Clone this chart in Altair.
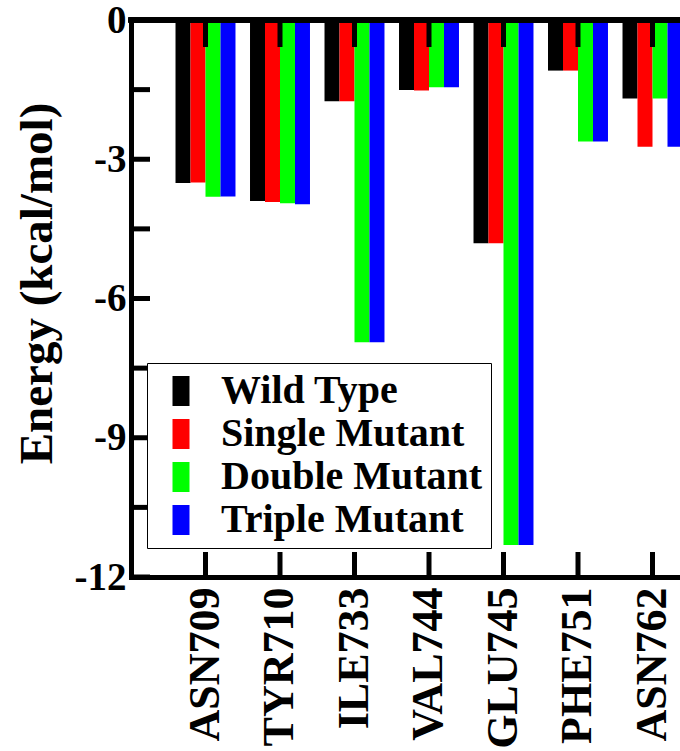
import altair as alt
import pandas as pd

residues = ["ASN709", "TYR710", "ILE733", "VAL744", "GLU745", "PHE751", "ASN762"]
series = ["Wild Type", "Single Mutant", "Double Mutant", "Triple Mutant"]
colors = ["#000000", "#ff0000", "#00ff00", "#0000ff"]

wild_type = [-3.51, -3.90, -1.75, -1.51, -4.81, -1.09, -1.69]
single_mutant = [-3.50, -3.92, -1.75, -1.52, -4.81, -1.09, -2.73]
double_mutant = [-3.81, -3.95, -6.94, -1.45, -11.31, -2.62, -1.69]
triple_mutant = [-3.80, -3.97, -6.94, -1.45, -11.31, -2.62, -2.73]

y_major = [0, -3, -6, -9, -12]
y_minor = [-1.5, -4.5, -7.5, -10.5]

rows = []
for name, vals in zip(series, [wild_type, single_mutant, double_mutant, triple_mutant]):
    for r, v in zip(residues, vals):
        rows.append({"residue": r, "series": name, "energy": v})
df = pd.DataFrame(rows)
res_df = pd.DataFrame({"residue": residues})
ytick_df = pd.DataFrame({"energy": y_major + y_minor})

W, H = 549, 557
FONT = "Liberation Serif"

x_scale = alt.Scale(domain=residues, range=[0, 596], paddingInner=0.195, paddingOuter=0.5975)
y_scale = alt.Scale(domain=[-12, 0], nice=False, zero=False)

x_axis = alt.Axis(
    title=None, labelAngle=270, labelAlign="right", labelBaseline="middle",
    labelFont=FONT, labelFontWeight="bold", labelFontSize=44, labelColor="black",
    labelPadding=10, ticks=False, domainWidth=5, domainColor="black", domainCap="square",
    grid=False,
)
y_axis = alt.Axis(
    title="Energy (kcal/mol)", values=y_major, ticks=False, grid=False,
    labelExpr="toString(datum.value)",
    labelFont=FONT, labelFontWeight="bold", labelFontSize=39, labelColor="black",
    labelPadding=5, domainWidth=5, domainColor="black", domainCap="square",
    titleFont=FONT, titleFontWeight="bold", titleFontSize=47, titleColor="black",
    titleX=-94, titleY=263, titleAngle=270, titleBaseline="middle", titleAlign="center",
)

x_enc = alt.X("residue:N", sort=residues, scale=x_scale, axis=x_axis)
y_enc = alt.Y("energy:Q", scale=y_scale, axis=y_axis)

bars = alt.Chart(df).mark_bar(clip=True, strokeWidth=0).encode(
    x=x_enc,
    xOffset=alt.XOffset("series:N", sort=series,
                        scale=alt.Scale(domain=series, paddingInner=0, paddingOuter=0)),
    y=y_enc,
    color=alt.Color(
        "series:N",
        scale=alt.Scale(domain=series, range=colors),
        legend=alt.Legend(
            title=None, orient="none", legendX=16, legendY=343, direction="vertical",
            fillColor="white", strokeColor="black", padding=8, rowPadding=3,
            symbolType="M-0.567,-1H0.567V1H-0.567Z", symbolSize=900,
            symbolStrokeWidth=0, symbolOpacity=1, symbolOffset=6,
            labelFont=FONT, labelFontWeight="bold", labelFontSize=40, labelColor="black",
            labelOffset=20, labelLimit=500,
        ),
    ),
)

top_ticks = alt.Chart(res_df).mark_rule(color="black", strokeWidth=5, clip=True).encode(
    x=x_enc, y=alt.value(0), y2=alt.value(27)
)
bottom_ticks = alt.Chart(res_df).mark_rule(color="black", strokeWidth=5, clip=True).encode(
    x=x_enc, y=alt.value(H - 25), y2=alt.value(H)
)
y_ticks = alt.Chart(ytick_df).mark_rule(color="black", strokeWidth=5).encode(
    y=y_enc, x=alt.value(0), x2=alt.value(19)
)
top_line = alt.Chart(res_df).mark_rule(color="black", strokeWidth=5, strokeCap="square").encode(
    y=alt.datum(0)
)

chart = alt.layer(bars, top_ticks, bottom_ticks, y_ticks, top_line).properties(
    width=W, height=H,
    autosize=alt.AutoSizeParams(type="none"),
    padding={"left": 131, "top": 20, "right": 0, "bottom": 174},
    background="white",
).configure_view(stroke="transparent")

chart.save("out.html", embed_options={"renderer": "svg", "actions": False})
